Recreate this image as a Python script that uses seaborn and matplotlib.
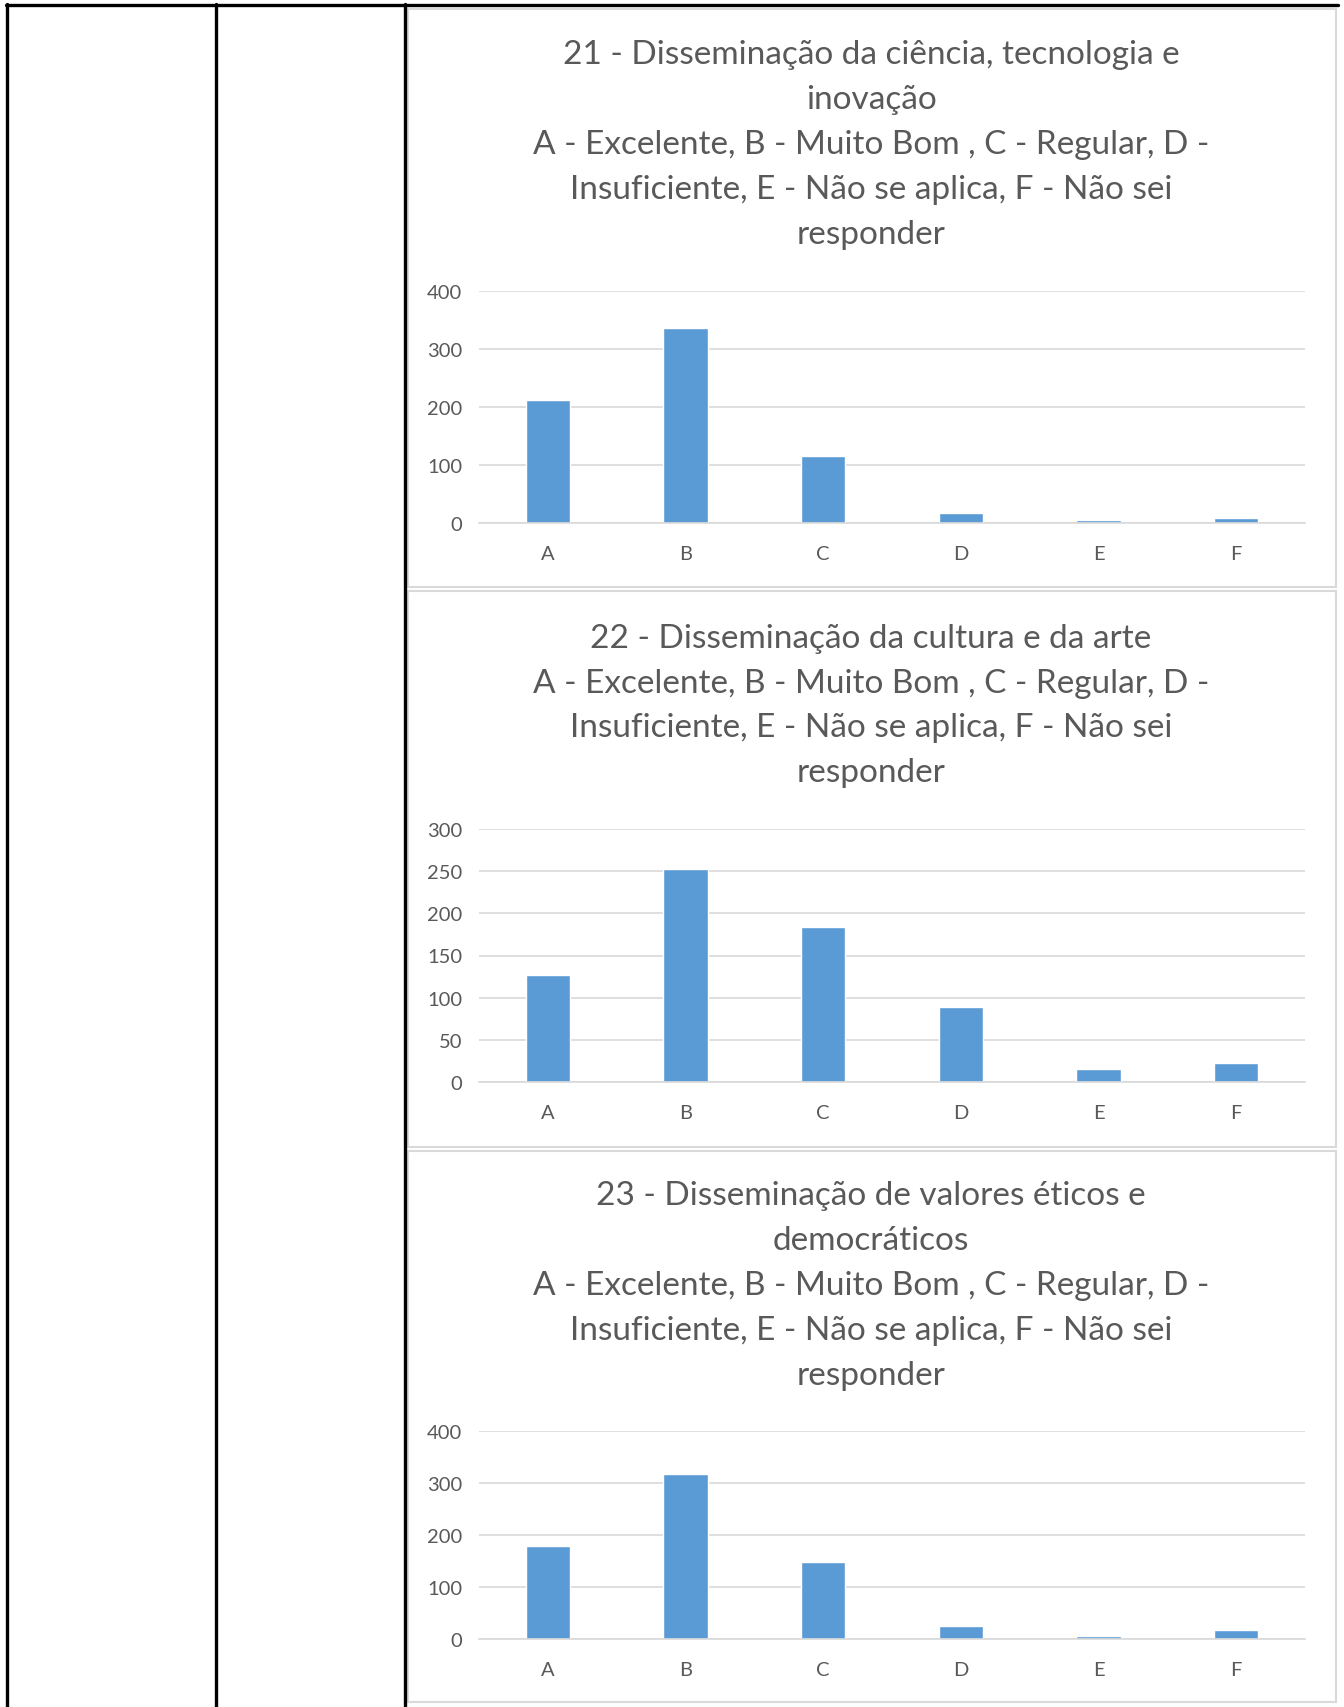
import matplotlib
matplotlib.use('Agg')
import matplotlib.pyplot as plt
import seaborn as sns
from matplotlib.patches import Rectangle
from matplotlib.lines import Line2D

categorias = ['A', 'B', 'C', 'D', 'E', 'F']
valores_21 = [212, 336, 115, 18, 5, 9]
valores_22 = [127, 253, 184, 89, 15, 22]
valores_23 = [179, 317, 148, 25, 6, 17]

titulo_21 = ('21 - Disseminação da ciência, tecnologia e\ninovação\n'
             'A - Excelente, B - Muito Bom , C - Regular, D -\n'
             'Insuficiente, E - Não se aplica, F - Não sei\nresponder')
titulo_22 = ('22 - Disseminação da cultura e da arte\n'
             'A - Excelente, B - Muito Bom , C - Regular, D -\n'
             'Insuficiente, E - Não se aplica, F - Não sei\nresponder')
titulo_23 = ('23 - Disseminação de valores éticos e\ndemocráticos\n'
             'A - Excelente, B - Muito Bom , C - Regular, D -\n'
             'Insuficiente, E - Não se aplica, F - Não sei\nresponder')

ticks_21 = [0, 100, 200, 300, 400]
ticks_22 = [0, 50, 100, 150, 200, 250, 300]
ticks_23 = [0, 100, 200, 300, 400]

sns.set_style('white')
plt.rcParams['font.family'] = ['Lato', 'DejaVu Sans']

W, H = 1344, 1708
fig = plt.figure(figsize=(W / 100, H / 100), dpi=100)

def fx(px):
    return px / W

def fy(py):
    return 1 - py / H

# Linhas da tabela
cor_tabela = 'black'
for x in [7, 216, 405]:
    fig.add_artist(Line2D([fx(x), fx(x)], [fy(5), fy(H)], color=cor_tabela, lw=2.4))
fig.add_artist(Line2D([fx(6), fx(1338)], [fy(6), fy(6)], color=cor_tabela, lw=2.4))

# Cada gráfico: (valores, titulo, ticks, topo do painel, base do painel, y do topo da grade, y do zero, centro do título)
graficos = [
    (valores_21, titulo_21, ticks_21, 10, 588, 292, 524, 145),
    (valores_22, titulo_22, ticks_22, 592, 1148, 830, 1083, 706),
    (valores_23, titulo_23, ticks_23, 1152, 1703, 1432, 1640, 1286),
]

for valores, titulo, ticks, p_top, p_bot, g_top, g_zero, t_cy in graficos:
    # Moldura do gráfico (estilo Excel)
    fig.add_artist(Rectangle((fx(408), fy(p_bot)), fx(1336) - fx(408), fy(p_top) - fy(p_bot),
                             transform=fig.transFigure, facecolor='white',
                             edgecolor='#D9D9D9', lw=1.5, zorder=0))

    ax = fig.add_axes([fx(479), fy(g_zero), fx(1305) - fx(479), fy(g_top) - fy(g_zero)])
    sns.barplot(x=categorias, y=valores, color='#5B9BD5', saturation=1, width=0.32, ax=ax)
    ax.set_xlim(-0.5, 5.5)
    ax.set_ylim(0, ticks[-1])
    ax.set_yticks(ticks)
    ax.yaxis.grid(True, color='#D9D9D9', lw=1.2)
    ax.set_axisbelow(True)
    for s in ['top', 'right', 'left']:
        ax.spines[s].set_visible(False)
    ax.spines['bottom'].set_color('#D9D9D9')
    ax.spines['bottom'].set_linewidth(1.2)
    ax.tick_params(axis='y', length=0, pad=12, labelsize=14.5, labelcolor='#595959')
    ax.tick_params(axis='x', length=0, pad=16, labelsize=14.5, labelcolor='#595959')
    ax.set_xlabel('')
    ax.set_ylabel('')
    ax.patch.set_alpha(0)

    fig.text(fx(871), fy(t_cy), titulo, ha='center', va='center', fontsize=24,
             color='#595959', linespacing=1.62)

plt.savefig('out.png', dpi=100)
